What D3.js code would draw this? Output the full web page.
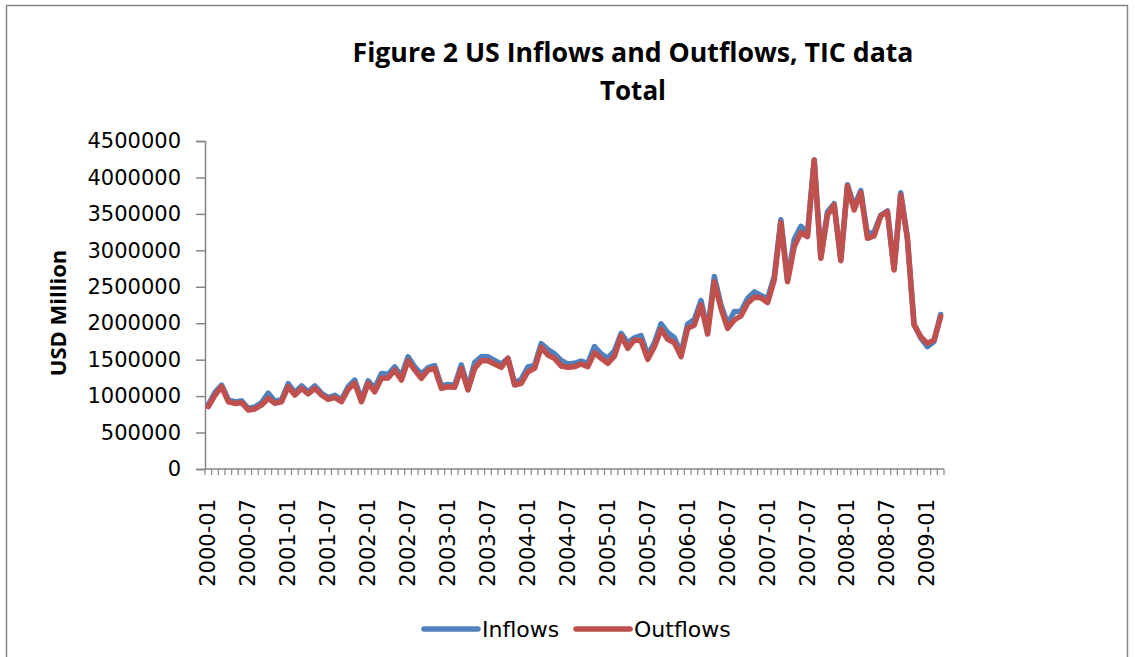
<!DOCTYPE html>
<html>
<head>
<meta charset="utf-8">
<script src="https://cdn.jsdelivr.net/npm/d3@7"></script>
<style>
  body { margin: 0; background: #fff; }
  svg { display: block; }
</style>
</head>
<body>
<div id="chart"></div>
<script>
// monthly categories 2000-01 .. 2009-03
let months = d3.timeMonths(new Date(2000, 0, 1), new Date(2009, 3, 1)).map(d3.timeFormat("%Y-%m"));

let inflows = [
  880000, 1050000, 1150000, 950000, 920000, 935000, 830000, 850000, 910000, 1040000, 930000, 950000,
  1170000, 1050000, 1140000, 1060000, 1140000, 1040000, 980000, 1010000, 950000, 1130000, 1220000, 950000,
  1210000, 1110000, 1310000, 1300000, 1400000, 1270000, 1540000, 1400000, 1300000, 1390000, 1420000, 1140000,
  1160000, 1150000, 1430000, 1110000, 1460000, 1540000, 1540000, 1490000, 1440000, 1520000, 1180000, 1230000,
  1400000, 1420000, 1720000, 1640000, 1580000, 1490000, 1440000, 1450000, 1480000, 1450000, 1680000, 1580000,
  1520000, 1620000, 1860000, 1730000, 1800000, 1830000, 1560000, 1730000, 1990000, 1870000, 1800000, 1590000,
  1990000, 2050000, 2310000, 1900000, 2640000, 2250000, 1990000, 2160000, 2160000, 2340000, 2430000, 2380000,
  2340000, 2640000, 3420000, 2590000, 3150000, 3330000, 3240000, 4240000, 2900000, 3530000, 3640000, 2870000,
  3900000, 3600000, 3820000, 3220000, 3250000, 3480000, 3540000, 2740000, 3790000, 3170000, 1990000, 1800000,
  1680000, 1750000, 2120000
];

let outflows = [
  855000, 1015000, 1129000, 923000, 900000, 910000, 810000, 823000, 878000, 970000, 900000, 923000,
  1129000, 1015000, 1107000, 1029000, 1107000, 1015000, 956000, 983000, 923000, 1093000, 1176000, 923000,
  1176000, 1060000, 1244000, 1250000, 1358000, 1221000, 1486000, 1358000, 1244000, 1358000, 1381000, 1107000,
  1129000, 1120000, 1381000, 1084000, 1381000, 1486000, 1486000, 1440000, 1395000, 1518000, 1152000, 1176000,
  1335000, 1381000, 1670000, 1564000, 1518000, 1413000, 1395000, 1404000, 1440000, 1404000, 1596000, 1518000,
  1450000, 1550000, 1825000, 1656000, 1770000, 1760000, 1505000, 1678000, 1917000, 1780000, 1733000, 1541000,
  1930000, 1976000, 2250000, 1852000, 2570000, 2205000, 1930000, 2044000, 2099000, 2273000, 2356000, 2350000,
  2282000, 2593000, 3380000, 2570000, 3050000, 3242000, 3187000, 4240000, 2891000, 3485000, 3622000, 2858000,
  3883000, 3553000, 3791000, 3165000, 3197000, 3471000, 3530000, 2730000, 3759000, 3165000, 1976000, 1815000,
  1724000, 1770000, 2090000
];

let yTicks = [0, 500000, 1000000, 1500000, 2000000, 2500000, 3000000, 3500000, 4000000, 4500000];
let seriesNames = ["Inflows", "Outflows"];
let seriesColors = ["#4F81BD", "#C0504D"];

let width = 1135, height = 657;
let plot = { left: 205, right: 944, top: 141, bottom: 469 };
let axisColor = "#868686";
let tickFont = "'DejaVu Sans', sans-serif";

let svg = d3.select("#chart").append("svg")
  .attr("width", width)
  .attr("height", height);

// chart area border
svg.append("rect")
  .attr("x", 6.5).attr("y", 5.5)
  .attr("width", 1121).attr("height", 700)
  .attr("fill", "#fff")
  .attr("stroke", axisColor)
  .attr("stroke-width", 1.5);

let x = d3.scaleBand()
  .domain(months)
  .range([plot.left, plot.right])
  .padding(0);

let y = d3.scaleLinear()
  .domain([0, 4500000])
  .range([plot.bottom, plot.top]);

// y axis
let yAxis = svg.append("g")
  .attr("transform", `translate(${plot.left},0)`)
  .call(d3.axisLeft(y).tickValues(yTicks).tickFormat(d3.format("d")).tickSize(9).tickPadding(15));
yAxis.select(".domain").attr("stroke", axisColor).attr("stroke-width", 1.5);
yAxis.selectAll(".tick line").attr("stroke", axisColor).attr("stroke-width", 1.5);
yAxis.selectAll("text")
  .attr("fill", "#000")
  .style("font-family", tickFont)
  .style("font-size", "21px");

// x axis: a tick at every category boundary, label every 6 months
let xAxisG = svg.append("g");
xAxisG.append("line")
  .attr("x1", plot.left).attr("x2", plot.right)
  .attr("y1", plot.bottom).attr("y2", plot.bottom)
  .attr("stroke", axisColor).attr("stroke-width", 1.5);

let boundaries = months.map(m => x(m)).concat([plot.right]);
xAxisG.selectAll("line.tick")
  .data(boundaries)
  .enter().append("line")
  .attr("class", "tick")
  .attr("x1", d => d).attr("x2", d => d)
  .attr("y1", plot.bottom).attr("y2", plot.bottom + 6)
  .attr("stroke", axisColor).attr("stroke-width", 1.2);

xAxisG.selectAll("text")
  .data(months.filter((m, i) => i % 6 === 0))
  .enter().append("text")
  .attr("transform", d => `translate(${x(d) + x.bandwidth() / 2 + 7},${plot.bottom + 30}) rotate(-90)`)
  .attr("text-anchor", "end")
  .style("font-family", tickFont)
  .style("font-size", "21px")
  .text(d => d);

// axis title
svg.append("text")
  .attr("transform", `translate(66,313) rotate(-90)`)
  .attr("text-anchor", "middle")
  .style("font-family", "'Open Sans', sans-serif")
  .style("font-weight", "bold")
  .style("font-size", "22px")
  .text("USD Million");

// title
let title = svg.append("g")
  .style("font-family", "'Open Sans', sans-serif")
  .style("font-weight", "bold")
  .style("font-size", "26px")
  .attr("text-anchor", "middle");
title.append("text")
  .attr("x", 633).attr("y", 62)
  .attr("textLength", 561)
  .attr("lengthAdjust", "spacingAndGlyphs")
  .text("Figure 2 US Inflows and Outflows, TIC data");
title.append("text")
  .attr("x", 633).attr("y", 100)
  .text("Total");

// lines
let line = d3.line()
  .x((d, i) => x(months[i]) + x.bandwidth() / 2)
  .y(d => y(d));

[inflows, outflows].forEach((values, k) => {
  svg.append("path")
    .datum(values)
    .attr("fill", "none")
    .attr("stroke", seriesColors[k])
    .attr("stroke-width", 5.5)
    .attr("stroke-linejoin", "round")
    .attr("stroke-linecap", "round")
    .attr("d", line);
});

// legend
let legendX = [424, 576];
let legend = svg.append("g");
seriesNames.forEach((name, k) => {
  legend.append("line")
    .attr("x1", legendX[k]).attr("x2", legendX[k] + 54)
    .attr("y1", 629).attr("y2", 629)
    .attr("stroke", seriesColors[k])
    .attr("stroke-width", 5.5)
    .attr("stroke-linecap", "round");
  legend.append("text")
    .attr("x", legendX[k] + 58).attr("y", 637)
    .style("font-family", tickFont)
    .style("font-size", "22px")
    .text(name);
});
</script>
</body>
</html>
